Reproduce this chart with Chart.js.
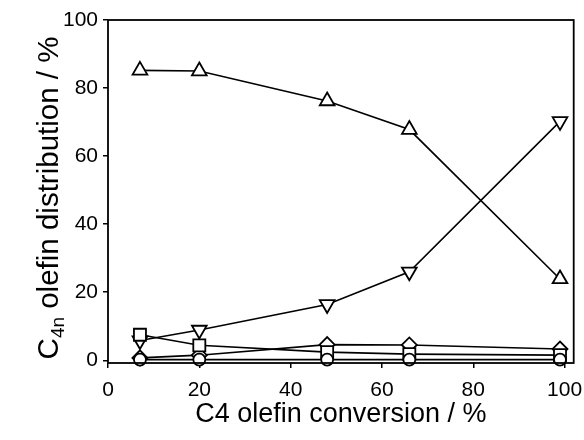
<!DOCTYPE html>
<html>
<head>
<meta charset="utf-8">
<script src="https://cdn.jsdelivr.net/npm/chart.js@4.4.1/dist/chart.umd.min.js"></script>
<style>
html,body{margin:0;padding:0;background:#fff;}
#wrap{width:584px;height:440px;position:relative;}
</style>
</head>
<body>
<div id="wrap"><canvas id="c" width="584" height="440"></canvas></div>
<script>
const conversion = [7, 20, 48, 66, 99];
const seriesUp = [85.2, 85.0, 76.2, 67.8, 23.9];
const seriesDown = [5.8, 8.9, 16.4, 26.0, 70.2];
const seriesSquare = [7.5, 4.4, 2.4, 1.8, 1.5];
const seriesDiamond = [0.7, 1.5, 4.6, 4.5, 3.3];
const seriesCircle = [0.2, 0.2, 0.2, 0.2, 0.2];
const xTicks = [0, 20, 40, 60, 80, 100];
const yTicks = [0, 20, 40, 60, 80, 100];
const xTitle = "C4 olefin conversion / %";
const yTitleMain = "C";
const yTitleSub = "4n";
const yTitleRest = " olefin distribution / %";

const FONT = "'Liberation Sans', Arial, sans-serif";

function pts(ys){ return conversion.map((x,i)=>({x:x, y:ys[i]})); }
function ds(ys, style, radius, rot){
  return {
    data: pts(ys),
    borderColor:'#000', borderWidth:1.6,
    pointStyle: style, pointRadius: radius, pointRotation: rot||0,
    pointBackgroundColor:'#fff', pointBorderColor:'#000', pointBorderWidth:1.8,
    pointHoverRadius: radius,
    tension:0, fill:false, clip:false
  };
}

const framePlugin = {
  id:'frame',
  afterDraw(chart){
    const {ctx, chartArea:a} = chart;
    ctx.save();
    ctx.strokeStyle='#000'; ctx.lineWidth=1.8;
    ctx.strokeRect(a.left, a.top, a.right-a.left, a.bottom-a.top);
    // x title
    ctx.fillStyle='#000';
    ctx.font = "27px " + FONT;
    ctx.textAlign='center'; ctx.textBaseline='alphabetic';
    ctx.fillText(xTitle, (a.left+a.right)/2, 422);
    // y title rotated with subscript
    ctx.translate(58, 198);
    ctx.rotate(-Math.PI/2);
    const big = "29.5px " + FONT, small = "19px " + FONT;
    ctx.font = big; const w1 = ctx.measureText(yTitleMain).width;
    const w3 = ctx.measureText(yTitleRest).width;
    ctx.font = small; const w2 = ctx.measureText(yTitleSub).width;
    let x0 = -(w1+w2+w3)/2;
    ctx.textAlign='left';
    ctx.font = big; ctx.fillText(yTitleMain, x0, 0);
    ctx.font = small; ctx.fillText(yTitleSub, x0+w1, 6);
    ctx.font = big; ctx.fillText(yTitleRest, x0+w1+w2, 0);
    ctx.restore();
  }
};

new Chart(document.getElementById('c'), {
  type:'line',
  data:{ datasets:[
    ds(seriesCircle,'circle',6),
    ds(seriesSquare,'rect',8.5),
    ds(seriesDiamond,'rectRot',7.5),
    ds(seriesDown,'triangle',8.5,180),
    ds(seriesUp,'triangle',8.5),
  ]},
  options:{
    responsive:false, animation:false, devicePixelRatio:1,
    layout:{padding:{top:20, right:9, left:0, bottom:0}},
    plugins:{legend:{display:false}, tooltip:{enabled:false}},
    scales:{
      x:{
        type:'linear', min:0, max:102,
        afterBuildTicks(s){ s.ticks = xTicks.map(v=>({value:v})); },
        afterFit(s){ s.height = 77; s.paddingLeft = 0; s.paddingRight = 0; },
        grid:{drawOnChartArea:false, color:'#000', tickLength:5, lineWidth:1.5},
        border:{display:false},
        ticks:{color:'#000', font:{family:FONT, size:21}, padding:10, maxRotation:0}
      },
      y:{
        type:'linear', min:-0.8, max:100,
        afterBuildTicks(s){ s.ticks = yTicks.map(v=>({value:v})); },
        afterFit(s){ s.width = 108; s.paddingTop = 0; s.paddingBottom = 0; },
        grid:{drawOnChartArea:false, color:'#000', tickLength:5, lineWidth:1.5},
        border:{display:false},
        ticks:{color:'#000', font:{family:FONT, size:21}, padding:5}
      }
    }
  },
  plugins:[framePlugin]
});
</script>
</body>
</html>
